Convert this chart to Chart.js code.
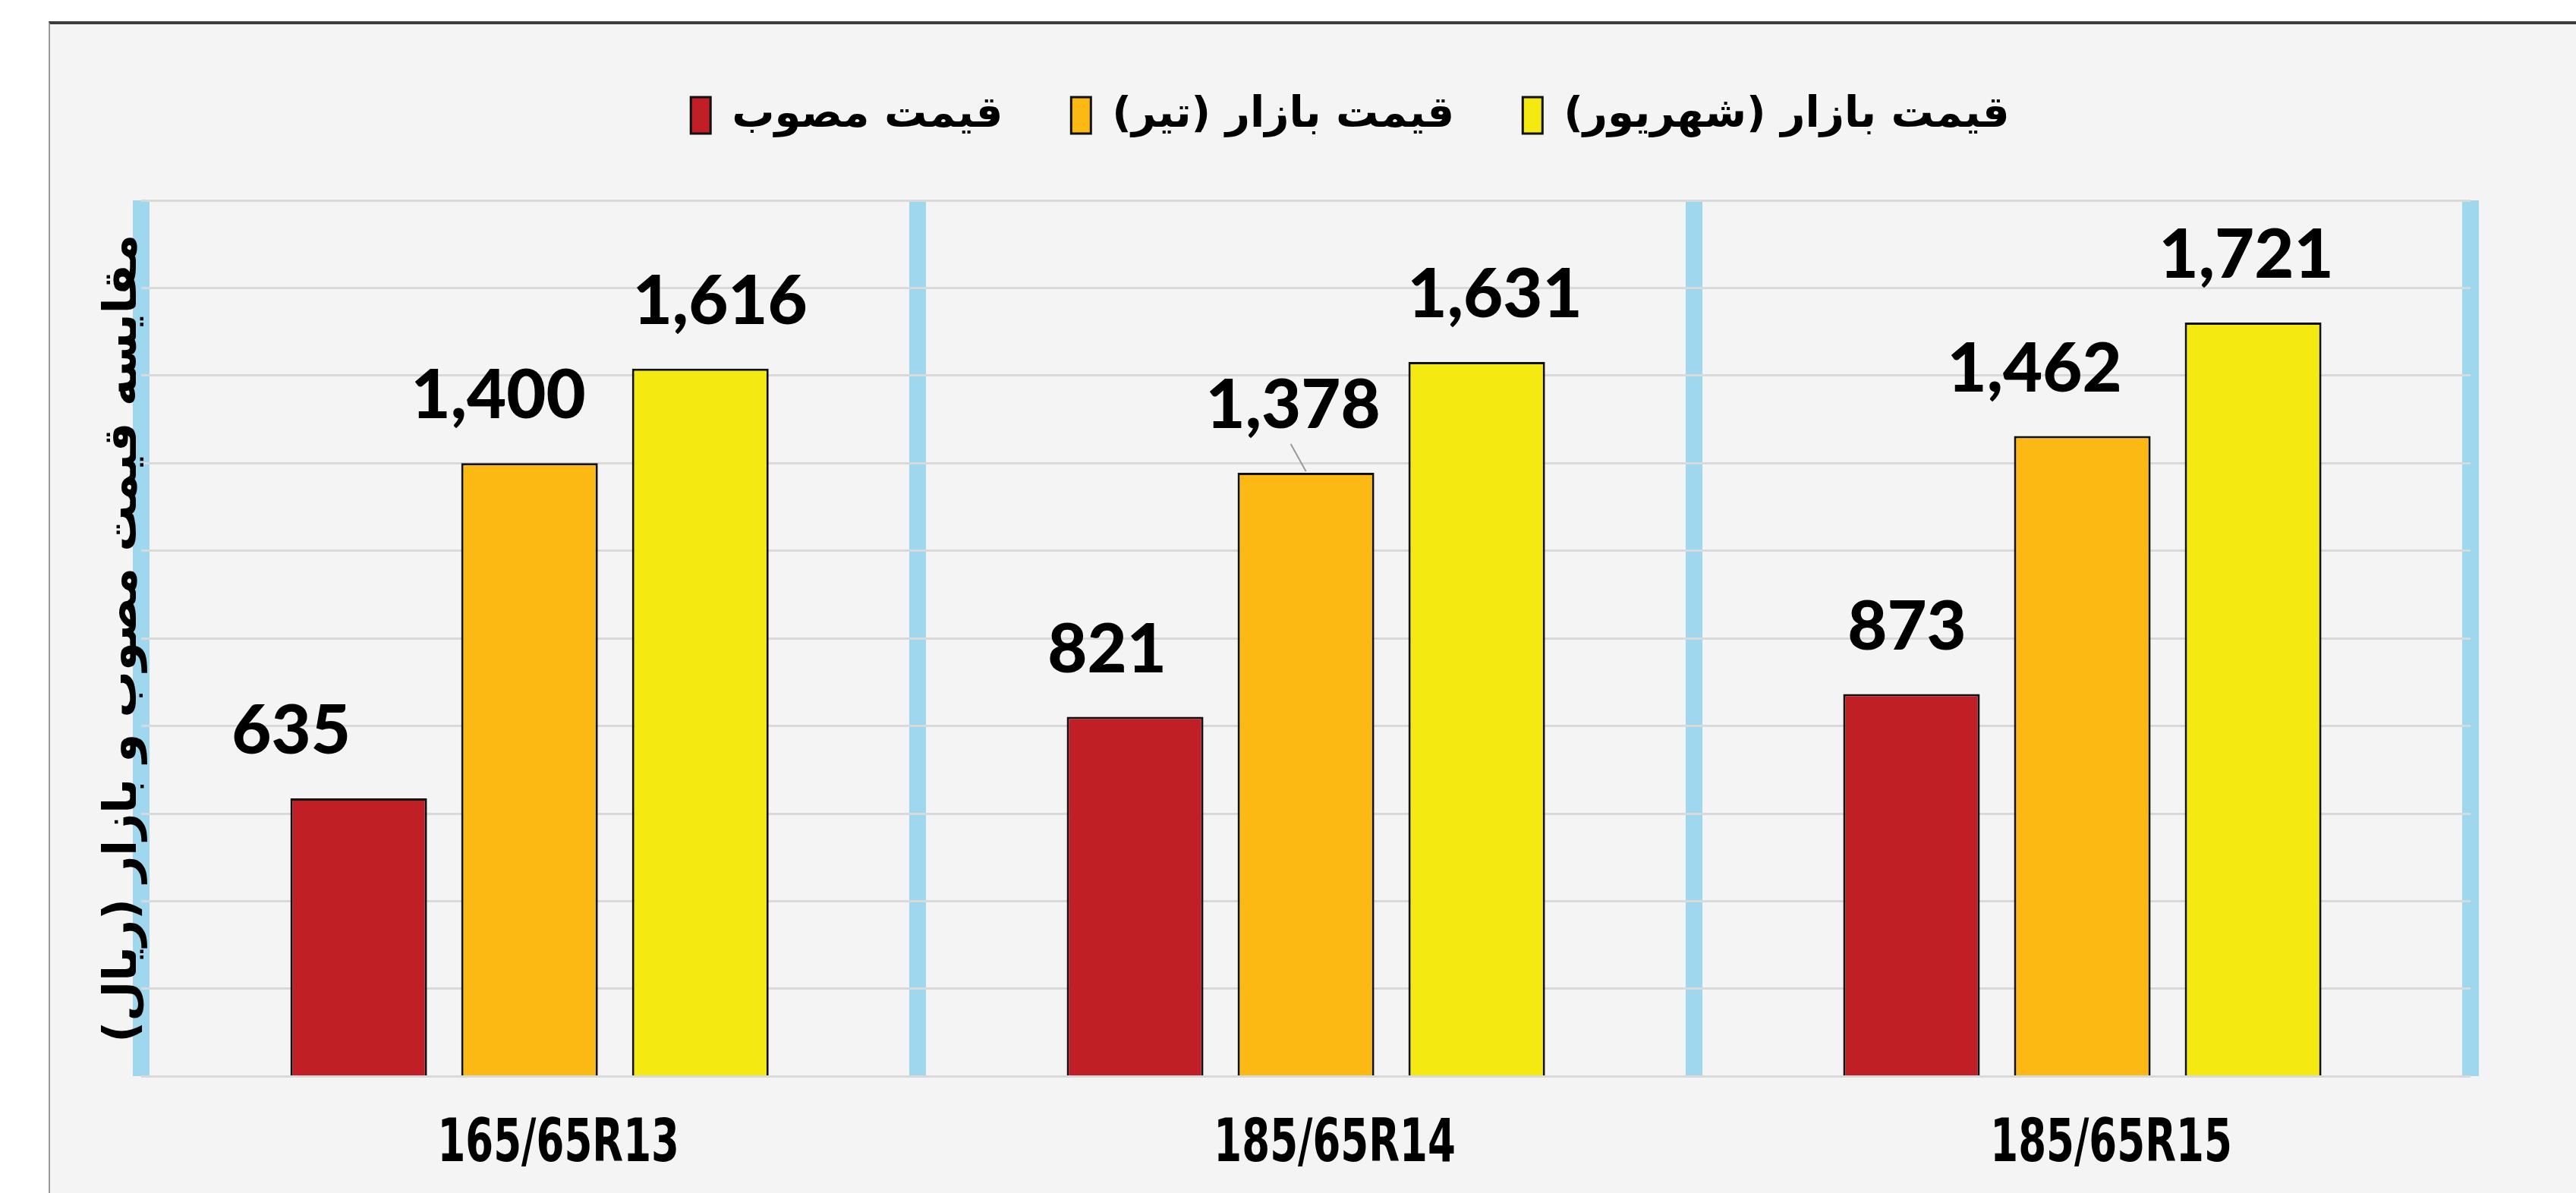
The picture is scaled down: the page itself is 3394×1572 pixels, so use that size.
<!DOCTYPE html>
<html lang="fa">
<head>
  <meta charset="UTF-8">
  <title>مقایسه قیمت مصوب و بازار</title>
  <script src="https://cdn.jsdelivr.net/npm/chart.js"></script>
  <style>
    body {
      margin: 0;
      background: #ffffff;
      overflow: hidden;
    }

    .panel {
      position: absolute;
      left: 64px;
      top: 28px;
      width: 3330px;
      height: 1568px;
      background: #f4f4f4;
      border-top: 4px solid #3c3c3c;
      border-left: 2px solid #9a9a9a;
    }
  </style>
</head>
<body>
  <div class="panel">
    <canvas id="priceChart"></canvas>
  </div>

  <script>
    const sizes = ['165/65R13', '185/65R14', '185/65R15'];
    const approved = [635, 821, 873];
    const marketTir = [1400, 1378, 1462];
    const marketShahrivar = [1616, 1631, 1721];

    // value labels sit above each bar, nudged sideways a little like the original
    const valueLabels = {
      id: 'valueLabels',
      afterDatasetsDraw(chart, args, opts) {
        const ctx = chart.ctx;
        ctx.save();
        ctx.font = '900 90px Lato, "DejaVu Sans", sans-serif';
        ctx.fillStyle = '#000';
        ctx.textAlign = 'center';
        ctx.textBaseline = 'middle';
        chart.data.datasets.forEach((ds, di) => {
          chart.getDatasetMeta(di).data.forEach((bar, i) => {
            const x = bar.x + opts.nudge[di][i];
            const y = bar.y - opts.rise;
            ctx.fillText(ds.data[i].toLocaleString('en-US'), x, y);
          });
        });
        ctx.strokeStyle = '#9a9a9a';
        ctx.lineWidth = 2;
        opts.leaders.forEach(([di, i]) => {
          const bar = chart.getDatasetMeta(di).data[i];
          ctx.beginPath();
          ctx.moveTo(bar.x - 20, bar.y - 38);
          ctx.lineTo(bar.x, bar.y - 2);
          ctx.stroke();
        });
        ctx.restore();
      }
    };

    // the category names use a narrow face; squeeze a bold one horizontally
    const narrowTicks = {
      id: 'narrowTicks',
      afterDraw(chart, args, opts) {
        const ctx = chart.ctx;
        const xs = chart.scales.x;
        ctx.save();
        ctx.font = 'bold 78px "DejaVu Sans", sans-serif';
        ctx.fillStyle = '#000';
        ctx.textAlign = 'center';
        ctx.textBaseline = 'middle';
        chart.data.labels.forEach((lab, i) => {
          ctx.save();
          ctx.translate(xs.getPixelForTick(i) + opts.dx, xs.top + opts.dy);
          ctx.scale(opts.squeeze, 1);
          ctx.fillText(lab, 0, 0);
          ctx.restore();
        });
        ctx.restore();
      }
    };

    // extra room under the legend and a small sideways shift
    const legendRoom = {
      id: 'legendRoom',
      beforeInit(chart) {
        const fit = chart.legend.fit;
        chart.legend.fit = function () {
          fit.call(this);
          this.height += 74;
        };
      },
      afterLayout(chart) {
        chart.legend.left += 90;
        chart.legend.right += 90;
      }
    };

    const ctx = document.getElementById('priceChart').getContext('2d');
    new Chart(ctx, {
      type: 'bar',
      data: {
        labels: sizes,
        datasets: [
          {
            label: 'قیمت مصوب',
            data: approved,
            backgroundColor: '#c01f26',
            borderColor: '#111',
            borderWidth: 3
          },
          {
            label: 'قیمت بازار (تیر)',
            data: marketTir,
            backgroundColor: '#fdb913',
            borderColor: '#111',
            borderWidth: 3
          },
          {
            label: 'قیمت بازار (شهریور)',
            data: marketShahrivar,
            backgroundColor: '#f5e912',
            borderColor: '#111',
            borderWidth: 3
          }
        ]
      },
      options: {
        responsive: true,
        maintainAspectRatio: false,
        animation: false,
        categoryPercentage: 0.66,
        barPercentage: 0.8,
        layout: {
          padding: { left: 57, right: 141, top: 2, bottom: 0 }
        },
        plugins: {
          tooltip: { enabled: false },
          legend: {
            position: 'top',
            labels: {
              color: '#000',
              boxWidth: 26,
              boxHeight: 48,
              padding: 90,
              font: { family: '"DejaVu Sans", sans-serif', size: 56, weight: 'bold' }
            }
          },
          valueLabels: {
            rise: 88,
            nudge: [[-89, -37, -6], [-41, -17, -63], [26, 24, -9]],
            leaders: [[1, 1]]
          },
          narrowTicks: { dx: 38, dy: 91, squeeze: 0.68 }
        },
        scales: {
          x: {
            grid: { color: '#9fd8ee', lineWidth: 22, drawTicks: false, z: -2 },
            border: { display: false },
            ticks: {
              color: 'rgba(0,0,0,0)',
              padding: 44,
              font: { family: '"DejaVu Sans", sans-serif', size: 78, weight: 'bold' }
            }
          },
          y: {
            min: 0,
            max: 2000,
            ticks: { display: false, stepSize: 200 },
            grid: { color: '#d9d9d9', lineWidth: 3, drawTicks: false, z: -1 },
            border: { display: false },
            title: {
              display: true,
              text: 'مقایسه قیمت مصوب و بازار (ریال)',
              color: '#000',
              padding: { top: 4, bottom: -14 },
              font: { family: '"DejaVu Sans", sans-serif', size: 61, weight: 'bold' }
            }
          }
        }
      },
      plugins: [valueLabels, narrowTicks, legendRoom]
    });
  </script>
</body>
</html>
